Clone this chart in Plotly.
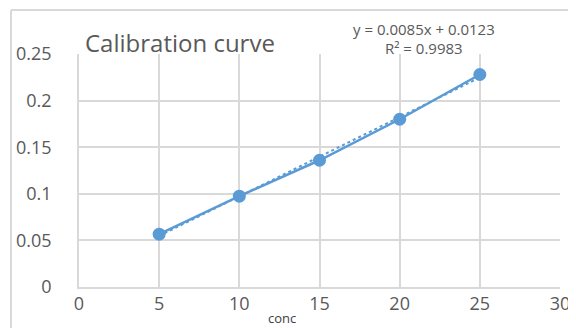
import plotly.graph_objects as go

conc = [5, 10, 15, 20, 25]
absorb = [0.0567, 0.0975, 0.136, 0.180, 0.228]
slope = 0.0085
intercept = 0.0123
trend_x = [5, 25]
trend_y = [slope * x + intercept for x in trend_x]
x_ticks = [0, 5, 10, 15, 20, 25, 30]
y_ticks = [0, 0.05, 0.1, 0.15, 0.2, 0.25]
y_labels = ["0", "0.05", "0.1", "0.15", "0.2", "0.25"]

blue = "#5B9BD5"
grid = "#D9D9D9"
tick_col = "#595959"
font = "Open Sans"

# page body has an 8px margin, so the figure is drawn 8px smaller
W, H = 568, 320
L, T, R, B = 71, 46, 16, 41
PW, PH = W - L - R, H - T - B


def px(x):
    return (x - 8 - L) / PW


def py(y):
    return (H - B - (y - 8)) / PH


fig = go.Figure()
fig.add_trace(go.Scatter(x=trend_x, y=trend_y, mode="lines",
                         line=dict(color=blue, width=2, dash="dot"),
                         showlegend=False, hoverinfo="skip"))
fig.add_trace(go.Scatter(x=conc, y=absorb, mode="lines+markers",
                         line=dict(color=blue, width=2.5),
                         marker=dict(color=blue, size=13),
                         showlegend=False))

fig.update_layout(
    width=W, height=H,
    margin=dict(l=L, r=R, t=T, b=B),
    paper_bgcolor="white", plot_bgcolor="white",
    font=dict(family=font, color=tick_col),
    xaxis=dict(range=[0, 30], tickvals=x_ticks, showgrid=True, gridcolor=grid,
               gridwidth=1.5, zeroline=False, showline=True, linecolor=grid,
               linewidth=1.5, tickfont=dict(size=18, color=tick_col),
               ticks="", fixedrange=True, automargin=False),
    yaxis=dict(range=[0, 0.25], tickvals=y_ticks, ticktext=y_labels,
               showgrid=True, gridcolor=grid, gridwidth=1.5, zeroline=False,
               showline=True, linecolor=grid, linewidth=1.5,
               tickfont=dict(size=18, color=tick_col), ticks="",
               ticklabelstandoff=22, fixedrange=True, automargin=False),
    annotations=[
        dict(text="Calibration curve", xref="paper", yref="paper",
             x=px(83), y=py(42), xanchor="left", yanchor="middle",
             showarrow=False, font=dict(size=24, color=tick_col, family=font)),
        dict(text="y = 0.0085x + 0.0123", xref="paper", yref="paper",
             x=px(424), y=py(29), xanchor="center", yanchor="middle",
             showarrow=False, font=dict(size=15, color=tick_col, family=font)),
        dict(text="R² = 0.9983", xref="paper", yref="paper",
             x=px(424), y=py(48), xanchor="center", yanchor="middle",
             showarrow=False, font=dict(size=15, color=tick_col, family=font)),
        dict(text="conc", xref="paper", yref="paper",
             x=px(282), y=py(318), xanchor="center",
             yanchor="middle", showarrow=False,
             font=dict(size=13, color="#404040", family=font)),
    ],
    shapes=[
        dict(type="line", xref="paper", yref="paper",
             x0=px(11), x1=px(576), y0=py(10), y1=py(10),
             line=dict(color=grid, width=2)),
        dict(type="line", xref="paper", yref="paper",
             x0=px(11), x1=px(11), y0=py(10), y1=py(330),
             line=dict(color=grid, width=2)),
    ],
)

fig.write_html("out.html")
